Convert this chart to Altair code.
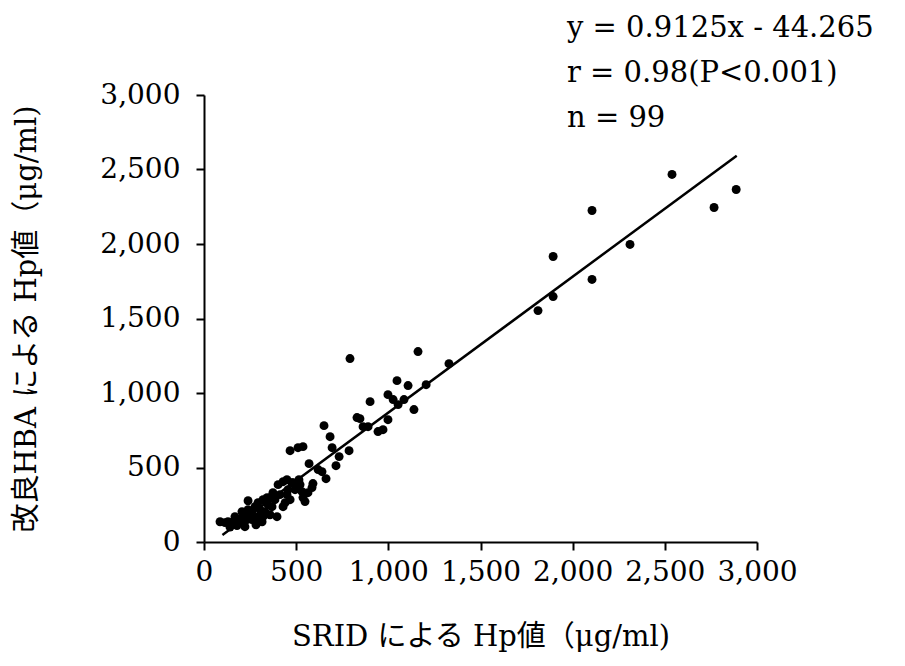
import altair as alt
import pandas as pd

# SRID values (x) and improved HBA values (y)
srid = [1812, 1894, 1894, 2105, 2105, 2311, 2539, 2767, 2887,
        1329, 1161, 1139, 1205, 1107, 1047, 1085, 1053, 1026, 998, 998, 901, 792,
        830, 846, 863, 890, 944, 971, 684, 651, 695, 510, 537, 467, 733, 787, 716,
        570, 619, 640, 662, 591, 483, 515, 494, 532, 564, 537,
        548, 429, 450, 402, 374, 456, 320, 342, 358, 293, 239, 304, 331, 369, 429,
        440, 396, 239, 260, 212, 233, 260, 277, 184, 195, 157, 293, 320, 179, 130,
        114, 87, 141, 222, 450, 477,
        505, 412, 347, 277, 206, 168, 250, 315, 358, 467, 521, 385, 217, 282, 586]
hba = [1553, 1647, 1916, 1762, 2225, 1997, 2467, 2245, 2366,
       1197, 1278, 889, 1056, 1050, 1083, 956, 922, 956, 989, 821, 942, 1231,
       835, 828, 774, 774, 741, 754, 707, 781, 633, 633, 640, 613, 573, 613, 512,
       526, 486, 472, 425, 392, 398, 418, 351, 338, 331, 298,
       271, 405, 418, 385, 331, 351, 284, 298, 298, 264, 277, 217, 203, 237, 237,
       264, 170, 217, 203, 170, 150, 150, 150, 150, 130, 136, 170, 170, 110, 136,
       130, 136, 100, 103, 318, 398,
       371, 318, 251, 237, 203, 170, 183, 136, 183, 284, 385, 284, 136, 116, 365]

# regression line endpoints (y = 0.9125x - 44.265)
line_x = [100, 2890]
line_y = [47, 2593]

stats_lines = ["y = 0.9125x - 44.265", "r = 0.98(P<0.001)", "n = 99"]
stats_y = [-67, -22, 23]

x_ticks = [0, 500, 1000, 1500, 2000, 2500, 3000]
y_ticks = [0, 500, 1000, 1500, 2000, 2500, 3000]

pts = pd.DataFrame({"x": srid, "y": hba})
ln = pd.DataFrame({"x": line_x, "y": line_y})
txt = pd.DataFrame({"t": stats_lines, "py": stats_y})

FONT = "DejaVu Serif, Noto Sans CJK JP"

xscale = alt.Scale(domain=[0, 3000], nice=False, zero=True)
yscale = alt.Scale(domain=[0, 3000], nice=False, zero=True)

xaxis = alt.Axis(values=x_ticks, format=",d", grid=False, labelFlush=False,
                 title="SRID による Hp値（μg/ml)", titlePadding=36,
                 tickSize=8, labelPadding=8)
yaxis = alt.Axis(values=y_ticks, format=",d", grid=False,
                 title="改良HBA による Hp値（μg/ml)", titlePadding=58,
                 tickSize=8, labelPadding=16)

points = alt.Chart(pts).mark_circle(size=80, color="black", opacity=1).encode(
    x=alt.X("x:Q", scale=xscale, axis=xaxis),
    y=alt.Y("y:Q", scale=yscale, axis=yaxis),
)

line = alt.Chart(ln).mark_line(color="black", strokeWidth=2.5).encode(
    x=alt.X("x:Q", scale=xscale),
    y=alt.Y("y:Q", scale=yscale),
)

stats = alt.Chart(txt).mark_text(align="left", baseline="middle", font=FONT,
                                 fontSize=29, color="black").encode(
    x=alt.value(363),
    y=alt.Y("py:Q", scale=None, axis=None),
    text="t:N",
)

chart = alt.layer(points, line, stats).properties(
    width=553, height=447,
    autosize=alt.AutoSizeParams(type="none"),
    padding={"left": 196, "top": 87, "right": 140, "bottom": 116},
).configure_view(stroke=None).configure_axis(
    domainColor="black", domainWidth=2, tickColor="black", tickWidth=2,
    labelFont=FONT, labelFontSize=28, labelColor="black",
    titleFont=FONT, titleFontSize=29, titleFontWeight="normal", titleColor="black",
)

chart.save("out.html", embed_options={"renderer": "svg", "actions": False})
